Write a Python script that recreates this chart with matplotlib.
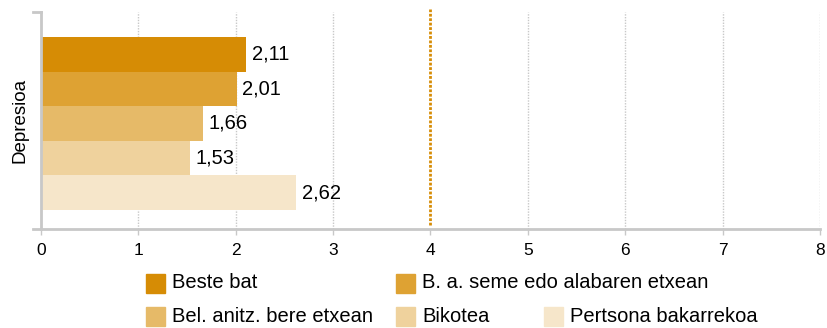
import matplotlib.pyplot as plt
from matplotlib.patches import Rectangle

plt.rcParams['font.family'] = ['Liberation Sans', 'DejaVu Sans']

# Depresioa, bizikidetza motaren arabera
taldeak = ['Beste bat', 'B. a. seme edo alabaren etxean', 'Bel. anitz. bere etxean',
           'Bikotea', 'Pertsona bakarrekoa']
balioak = [2.11, 2.01, 1.66, 1.53, 2.62]
koloreak = ['#d68c05', '#dea233', '#e6ba68', '#efd29d', '#f6e6ca']
erreferentzia = 4
x_tikak = list(range(0, 9))

grisa = '#c8c8c8'

fig = plt.figure(figsize=(8.28, 3.28), dpi=100)
ax = fig.add_axes([41 / 828, 1 - 229 / 328, (820 - 41) / 828, 217 / 328])

posizioak = list(range(len(balioak)))
ax.barh(posizioak, balioak, height=1.0, color=koloreak, zorder=2)
for p, v in zip(posizioak, balioak):
    ax.annotate(f'{v:.2f}'.replace('.', ','), (v, p), xytext=(4, 0),
                textcoords='offset points', va='center', ha='left', fontsize=14.5)

ax.set_xlim(0, 8)
ax.set_ylim(5.05, -1.22)
ax.set_xticks(x_tikak)
ax.set_xticklabels([str(t) for t in x_tikak], fontsize=12.5)
ax.set_yticks([])
ax.set_ylabel('Depresioa', fontsize=13.5, labelpad=9)

# sareta puntuduna
for t in x_tikak[1:]:
    if t != erreferentzia:
        ax.axvline(t, color=grisa, lw=1, ls=(0, (1, 1)), zorder=1)
ax.axvline(erreferentzia, ymin=0.018, ymax=1.014, color='#d68c05', lw=2,
           ls=(0, (1, 0.6)), zorder=3, clip_on=False)

for s in ['top', 'right']:
    ax.spines[s].set_visible(False)
for s in ['left', 'bottom']:
    ax.spines[s].set_color(grisa)
    ax.spines[s].set_linewidth(2)
ax.tick_params(axis='x', length=4, width=1, color=grisa, pad=6)

# ardatzen hasierako marra laburrak
dx = 8 / 779
ax.plot([-dx, 0], [1, 1], transform=ax.transAxes, color=grisa, lw=2, clip_on=False)
ax.plot([-dx, 0], [0, 0], transform=ax.transAxes, color=grisa, lw=2, clip_on=False)

# legenda
kokapenak = [(146, 283), (396, 283), (146, 316), (396, 316), (544, 316)]
for (px, py), izena, kol in zip(kokapenak, taldeak, koloreak):
    fig.patches.append(Rectangle((px / 828, 1 - (py + 9.5) / 328), 19 / 828, 19 / 328,
                                 transform=fig.transFigure, color=kol))
    fig.text((px + 26) / 828, 1 - py / 328, izena, va='center', ha='left', fontsize=14.5)

fig.savefig('out.png', dpi=100)
